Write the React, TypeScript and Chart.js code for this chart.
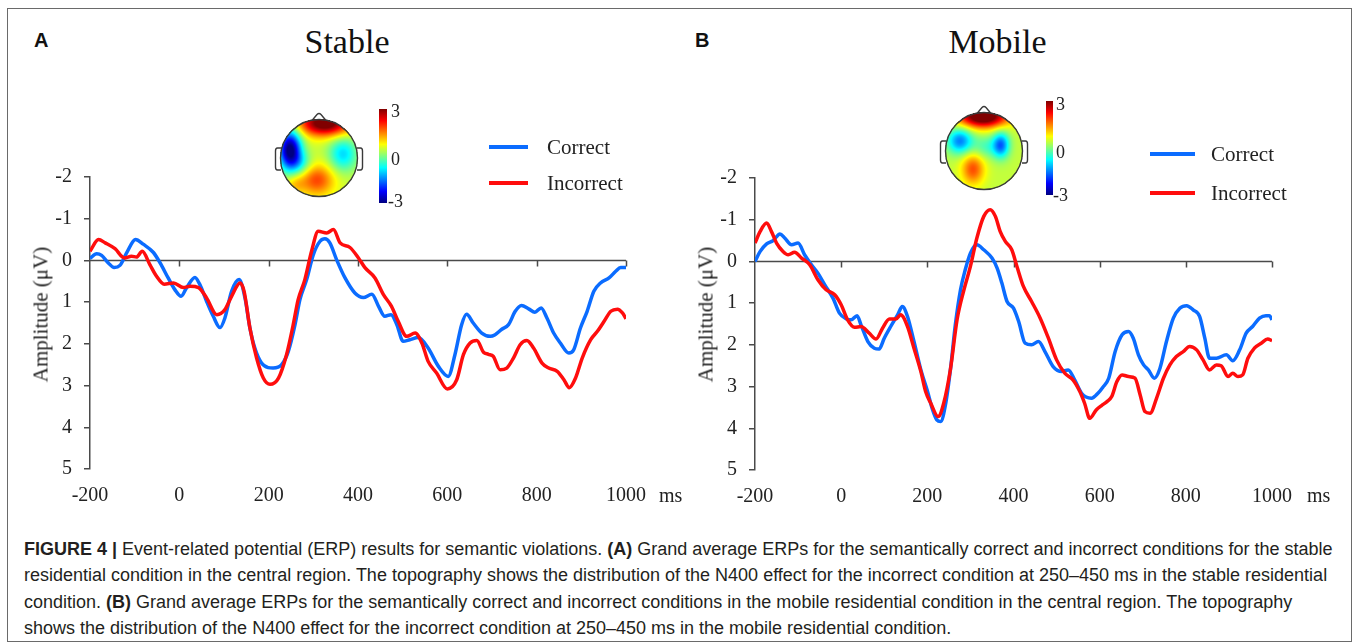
import React, { useEffect, useRef } from 'react';
import { Chart, registerables } from 'chart.js';
Chart.register(...registerables);

const SERIF = '"Liberation Serif", "Times New Roman", serif';
const SANS = '"Liberation Sans", Arial, sans-serif';
const BLUE = '#0b6cff';
const RED = '#ff0d0d';
const AXIS = '#4a4a4a';

const timeTicks = [-200, 0, 200, 400, 600, 800, 1000];
const ampTicks = [-2, -1, 0, 1, 2, 3, 4, 5];

// Stable – Correct
const stableCorrectT = [-200, -185, -174, -159, -146, -133, -118, -98, -81, -58, -43, -25, -10, 4, 16, 35, 46, 61, 76, 91, 102, 117, 134, 147, 158, 169, 184, 199, 210, 229, 244, 259, 270, 285, 300, 315, 326, 337, 352, 371, 393, 412, 431, 446, 460, 474, 487, 501, 516, 535, 557, 580, 602, 617, 632, 643, 658, 677, 696, 707, 722, 737, 752, 766, 782, 796, 810, 823, 838, 853, 872, 883, 898, 913, 928, 943, 962, 977, 988, 1000];
const stableCorrectV = [-0.05, -0.16, -0.12, 0.06, 0.17, 0.12, -0.18, -0.5, -0.39, -0.19, 0.06, 0.42, 0.7, 0.86, 0.66, 0.41, 0.58, 0.98, 1.34, 1.61, 1.38, 0.74, 0.46, 0.9, 1.62, 2.1, 2.46, 2.57, 2.58, 2.5, 2.18, 1.54, 0.94, 0.46, -0.14, -0.46, -0.52, -0.42, -0.02, 0.42, 0.78, 0.89, 0.81, 1.1, 1.34, 1.3, 1.54, 1.94, 1.9, 1.85, 2.1, 2.54, 2.78, 2.26, 1.54, 1.29, 1.5, 1.74, 1.82, 1.78, 1.65, 1.54, 1.22, 1.08, 1.16, 1.24, 1.14, 1.38, 1.74, 1.98, 2.22, 2.14, 1.62, 1.22, 0.74, 0.54, 0.42, 0.26, 0.17, 0.17];

// Stable – Incorrect
const stableIncorrectT = [-200, -181, -166, -144, -123, -107, -96, -83, -66, -51, -34, -13, 9, 24, 43, 61, 84, 102, 117, 136, 145, 158, 173, 188, 203, 222, 240, 255, 266, 281, 296, 311, 330, 345, 360, 382, 401, 416, 438, 457, 475, 490, 509, 528, 543, 557, 576, 600, 621, 636, 651, 666, 681, 692, 703, 718, 733, 748, 763, 778, 793, 812, 827, 846, 861, 873, 887, 902, 921, 936, 951, 966, 981, 992, 1000];
const stableIncorrectV = [-0.22, -0.5, -0.42, -0.28, -0.06, -0.1, -0.08, -0.22, 0.1, 0.38, 0.57, 0.54, 0.65, 0.62, 0.65, 0.9, 1.3, 1.18, 0.86, 0.54, 0.74, 1.62, 2.34, 2.82, 2.97, 2.82, 2.26, 1.54, 0.94, 0.46, -0.22, -0.7, -0.66, -0.74, -0.42, -0.31, -0.06, 0.18, 0.42, 0.82, 1.1, 1.46, 1.82, 1.74, 1.98, 2.42, 2.7, 3.08, 2.86, 2.26, 1.98, 1.92, 2.2, 2.25, 2.3, 2.62, 2.58, 2.34, 2.02, 1.92, 2.1, 2.46, 2.58, 2.66, 2.86, 3.05, 2.82, 2.34, 1.9, 1.7, 1.46, 1.22, 1.17, 1.26, 1.4];

// Mobile – Correct
const mobileCorrectT = [-200, -188, -173, -158, -142, -131, -115, -100, -85, -69, -54, -38, -19, -4, 12, 23, 37, 46, 62, 77, 88, 100, 115, 131, 142, 154, 169, 185, 200, 212, 222, 231, 242, 254, 265, 277, 288, 300, 315, 331, 350, 362, 373, 385, 400, 412, 427, 442, 458, 473, 492, 512, 527, 542, 558, 581, 596, 607, 621, 636, 652, 667, 678, 690, 702, 713, 727, 740, 755, 771, 786, 802, 817, 832, 844, 855, 871, 894, 909, 925, 940, 955, 971, 986, 994, 1000];
const mobileCorrectV = [0, -0.24, -0.42, -0.5, -0.66, -0.56, -0.4, -0.44, -0.16, 0.08, 0.28, 0.56, 0.88, 1.24, 1.38, 1.4, 1.3, 1.52, 1.92, 2.08, 2.1, 1.84, 1.56, 1.28, 1.08, 1.32, 1.92, 2.6, 3.1, 3.55, 3.8, 3.84, 3.44, 2.56, 1.52, 0.68, 0.2, -0.2, -0.4, -0.28, -0.08, 0.16, 0.52, 0.96, 1.12, 1.44, 1.96, 2.0, 1.92, 2.16, 2.52, 2.64, 2.6, 2.84, 3.16, 3.28, 3.16, 3.02, 2.8, 2.16, 1.76, 1.68, 1.84, 2.24, 2.48, 2.6, 2.8, 2.56, 1.92, 1.36, 1.12, 1.06, 1.16, 1.32, 1.84, 2.32, 2.32, 2.24, 2.38, 2.12, 1.72, 1.56, 1.36, 1.3, 1.3, 1.4];

// Mobile – Incorrect
const mobileIncorrectT = [-200, -188, -173, -162, -150, -135, -123, -108, -92, -73, -54, -35, -15, 0, 15, 31, 46, 65, 81, 96, 112, 127, 138, 154, 169, 185, 196, 208, 225, 238, 254, 269, 285, 300, 315, 331, 346, 358, 369, 381, 396, 408, 423, 442, 462, 481, 500, 519, 538, 554, 565, 577, 592, 605, 617, 628, 640, 652, 667, 682, 694, 705, 717, 732, 748, 763, 778, 794, 809, 825, 840, 855, 871, 882, 898, 909, 921, 932, 944, 959, 975, 990, 1000];
const mobileIncorrectV = [-0.44, -0.72, -0.92, -0.72, -0.44, -0.24, -0.16, -0.22, -0.08, 0.08, 0.44, 0.68, 0.8, 1.04, 1.4, 1.58, 1.56, 1.72, 1.86, 1.6, 1.38, 1.38, 1.28, 1.56, 2.08, 2.64, 3.12, 3.4, 3.72, 3.4, 2.56, 1.4, 0.68, 0.12, -0.56, -1.08, -1.24, -1.08, -0.72, -0.48, -0.28, 0.12, 0.6, 0.96, 1.36, 1.84, 2.36, 2.68, 2.84, 3.12, 3.4, 3.76, 3.56, 3.45, 3.36, 3.24, 2.88, 2.72, 2.76, 2.8, 3.2, 3.6, 3.64, 3.28, 2.8, 2.48, 2.28, 2.16, 2.04, 2.12, 2.36, 2.6, 2.48, 2.5, 2.76, 2.68, 2.76, 2.72, 2.32, 2.08, 1.96, 1.86, 1.9];

const captionLines: React.ReactNode[] = [
  <><b>FIGURE 4 |</b> Event-related potential (ERP) results for semantic violations. <b>(A)</b> Grand average ERPs for the semantically correct and incorrect conditions for the stable</>,
  <>residential condition in the central region. The topography shows the distribution of the N400 effect for the incorrect condition at 250–450 ms in the stable residential</>,
  <>condition. <b>(B)</b> Grand average ERPs for the semantically correct and incorrect conditions in the mobile residential condition in the central region. The topography</>,
  <>shows the distribution of the N400 effect for the incorrect condition at 250–450 ms in the mobile residential condition.</>,
];

const zeroLinePlugin = {
  id: 'zeroLine',
  beforeDatasetsDraw(chart: any) {
    const { ctx, chartArea } = chart;
    const xs = chart.scales.x;
    const ys = chart.scales.y;
    const y0 = ys.getPixelForValue(0);
    ctx.save();
    ctx.strokeStyle = AXIS;
    ctx.lineWidth = 1.5;
    ctx.beginPath();
    ctx.moveTo(chartArea.left, y0);
    ctx.lineTo(chartArea.right, y0);
    for (const t of timeTicks) {
      if (t === timeTicks[0]) continue;
      const px = Math.round(xs.getPixelForValue(t)) + 0.5;
      ctx.moveTo(px, y0);
      ctx.lineTo(px, y0 + 6);
    }
    ctx.stroke();
    ctx.restore();
  },
};

type ErpProps = {
  left: number; top: number; width: number; height: number;
  padTop: number; padRight: number; yWidth: number; xHeight: number;
  cT: number[]; cV: number[]; iT: number[]; iV: number[];
};

function ErpChart(p: ErpProps) {
  const ref = useRef<HTMLCanvasElement>(null);
  useEffect(() => {
    const pts = (t: number[], v: number[]) => t.map((x, i) => ({ x, y: v[i] }));
    const chart = new Chart(ref.current as HTMLCanvasElement, {
      type: 'line',
      data: {
        datasets: [
          { label: 'Incorrect', data: pts(p.iT, p.iV), borderColor: RED, borderWidth: 3.5, pointRadius: 0, cubicInterpolationMode: 'monotone', fill: false } as any,
          { label: 'Correct', data: pts(p.cT, p.cV), borderColor: BLUE, borderWidth: 3.5, pointRadius: 0, cubicInterpolationMode: 'monotone', fill: false } as any,
        ],
      },
      options: {
        animation: false,
        responsive: false,
        events: [],
        layout: { padding: { top: p.padTop, right: p.padRight, left: 0, bottom: 0 } },
        plugins: { legend: { display: false }, tooltip: { enabled: false } },
        scales: {
          x: {
            type: 'linear', min: -200, max: 1000,
            afterBuildTicks: (s: any) => { s.ticks = timeTicks.map((v) => ({ value: v })); },
            afterFit: (s: any) => { s.height = p.xHeight; },
            grid: { display: false, drawTicks: false },
            border: { display: false },
            ticks: { font: { family: SERIF, size: 20 }, color: '#222', padding: 15, maxRotation: 0, autoSkip: false, callback: (v: any) => String(v) },
          },
          y: {
            type: 'linear', reverse: true, min: -2, max: 5,
            afterBuildTicks: (s: any) => { s.ticks = ampTicks.map((v) => ({ value: v })); },
            afterFit: (s: any) => { s.width = p.yWidth; },
            grid: { drawOnChartArea: false, drawTicks: true, tickLength: 6, color: AXIS, lineWidth: 1.5 },
            border: { display: true, color: AXIS, width: 1.5 },
            ticks: { font: { family: SERIF, size: 20 }, color: '#222', padding: 12, callback: (v: any) => String(v) },
          },
        },
      } as any,
      plugins: [zeroLinePlugin],
    });
    return () => chart.destroy();
  }, []);
  return <canvas ref={ref} width={p.width} height={p.height} style={{ position: 'absolute', left: p.left, top: p.top, width: p.width, height: p.height }} />;
}

type Blob = { dx: number; dy: number; sx: number; sy: number; a: number };

function jet(n: number): [number, number, number] {
  const c = (v: number) => Math.max(0, Math.min(1, v));
  return [c(1.5 - Math.abs(4 * n - 3)), c(1.5 - Math.abs(4 * n - 2)), c(1.5 - Math.abs(4 * n - 1))];
}

function TopoMap({ cx, cy, r, base, blobs }: { cx: number; cy: number; r: number; base: number; blobs: Blob[] }) {
  const ref = useRef<HTMLCanvasElement>(null);
  const S = 110;
  const C = 55;
  useEffect(() => {
    const cv = ref.current as HTMLCanvasElement;
    const ctx = cv.getContext('2d') as CanvasRenderingContext2D;
    ctx.clearRect(0, 0, S, S);
    const img = ctx.createImageData(S, S);
    for (let y = 0; y < S; y++) {
      for (let x = 0; x < S; x++) {
        const dx = x + 0.5 - C;
        const dy = y + 0.5 - C;
        if (dx * dx + dy * dy > (r + 0.5) * (r + 0.5)) continue;
        let v = base;
        for (const b of blobs) {
          v += b.a * Math.exp(-(((dx - b.dx) ** 2) / (2 * b.sx * b.sx) + ((dy - b.dy) ** 2) / (2 * b.sy * b.sy)));
        }
        v = Math.max(-3, Math.min(3, v));
        const [rr, gg, bb] = jet((v + 3) / 6);
        const k = (y * S + x) * 4;
        img.data[k] = Math.round(rr * 255);
        img.data[k + 1] = Math.round(gg * 255);
        img.data[k + 2] = Math.round(bb * 255);
        img.data[k + 3] = 255;
      }
    }
    ctx.putImageData(img, 0, 0);
    ctx.strokeStyle = '#3a3a3a';
    ctx.lineWidth = 1.4;
    ctx.beginPath();
    ctx.arc(C, C, r, 0, Math.PI * 2);
    ctx.stroke();
    // nose
    ctx.beginPath();
    ctx.moveTo(C - 7, C - r + 1);
    ctx.lineTo(C - 2, C - r - 5);
    ctx.quadraticCurveTo(C, C - r - 7, C + 2, C - r - 5);
    ctx.lineTo(C + 7, C - r + 1);
    ctx.stroke();
    // ears
    const ear = (sgn: number) => {
      const xo = C + sgn * r;
      ctx.beginPath();
      ctx.moveTo(xo - sgn * 0.5, C - 10);
      ctx.lineTo(xo + sgn * 3, C - 10);
      ctx.quadraticCurveTo(xo + sgn * 5, C - 10, xo + sgn * 5, C - 7);
      ctx.lineTo(xo + sgn * 5, C + 9);
      ctx.quadraticCurveTo(xo + sgn * 5, C + 12, xo + sgn * 3, C + 12);
      ctx.lineTo(xo - sgn * 0.5, C + 12);
      ctx.stroke();
    };
    ear(-1);
    ear(1);
  }, []);
  return <canvas ref={ref} width={S} height={S} style={{ position: 'absolute', left: cx - C, top: cy - C, width: S, height: S }} />;
}

const JET_GRADIENT = 'linear-gradient(to bottom, #800000 0%, #ff0000 12.5%, #ffff00 37.5%, #80ff80 50%, #00ffff 62.5%, #0000ff 87.5%, #000080 100%)';

function Colorbar({ x, y, w, h, lx, t3, t0, tm3, lxm }: { x: number; y: number; w: number; h: number; lx: number; t3: number; t0: number; tm3: number; lxm: number }) {
  const lab: React.CSSProperties = { position: 'absolute', fontFamily: SERIF, fontSize: 18, lineHeight: '18px', color: '#222', whiteSpace: 'nowrap' };
  return (
    <>
      <div style={{ position: 'absolute', left: x, top: y, width: w, height: h, background: JET_GRADIENT }} />
      <div style={{ ...lab, left: lx, top: t3 }}>3</div>
      <div style={{ ...lab, left: lx, top: t0 }}>0</div>
      <div style={{ ...lab, left: lxm, top: tm3 }}>-3</div>
    </>
  );
}

function Legend({ x1, x2, y1, y2, tx }: { x1: number; x2: number; y1: number; y2: number; tx: number }) {
  const txt: React.CSSProperties = { position: 'absolute', fontFamily: SERIF, fontSize: 21, lineHeight: '21px', color: '#222', whiteSpace: 'nowrap' };
  return (
    <>
      <div style={{ position: 'absolute', left: x1, top: y1 - 2, width: x2 - x1, height: 4, background: BLUE }} />
      <div style={{ ...txt, left: tx, top: y1 - 10.5 }}>Correct</div>
      <div style={{ position: 'absolute', left: x1, top: y2 - 2, width: x2 - x1, height: 4, background: RED }} />
      <div style={{ ...txt, left: tx, top: y2 - 10.5 }}>Incorrect</div>
    </>
  );
}

const stableBlobs: Blob[] = [
  { dx: 6, dy: -35, sx: 18, sy: 9, a: 3.0 },
  { dx: -29, dy: -8, sx: 8, sy: 14, a: -3.6 },
  { dx: -2, dy: 22, sx: 12, sy: 11, a: 1.4 },
  { dx: 24, dy: -4, sx: 10, sy: 12, a: -1.4 },
  { dx: -18, dy: 5, sx: 8, sy: 8, a: -0.8 },
  { dx: -24, dy: 26, sx: 7, sy: 7, a: 0.6 },
];
const mobileBlobs: Blob[] = [
  { dx: -1, dy: -35, sx: 17, sy: 8, a: 3.4 },
  { dx: -24, dy: -10, sx: 9, sy: 9, a: -1.9 },
  { dx: 17, dy: -6, sx: 6, sy: 9, a: -2.0 },
  { dx: -11, dy: 18, sx: 8, sy: 11, a: 1.4 },
  { dx: 2, dy: -4, sx: 9, sy: 8, a: -0.7 },
];

export default function App() {
  const title: React.CSSProperties = { position: 'absolute', fontFamily: SERIF, fontSize: 34, lineHeight: '34px', color: '#111', width: 240, textAlign: 'center', whiteSpace: 'nowrap' };
  const letter: React.CSSProperties = { position: 'absolute', fontFamily: SANS, fontWeight: 'bold', fontSize: 20, lineHeight: '20px', color: '#111' };
  const ytitle: React.CSSProperties = { position: 'absolute', fontFamily: SERIF, fontSize: 21, lineHeight: '21px', color: '#222', width: 200, textAlign: 'center', whiteSpace: 'nowrap', transform: 'rotate(-90deg)' };
  const ms: React.CSSProperties = { position: 'absolute', fontFamily: SERIF, fontSize: 20, lineHeight: '20px', color: '#222', top: 485 };
  return (
    <div style={{ position: 'absolute', left: 0, top: 0, width: 1357, height: 643, background: '#fff', overflow: 'hidden' }}>
      <div style={{ position: 'absolute', left: 7, top: 8, width: 1343, height: 632, border: '1px solid #6a6a6a' }} />

      {/* Panel A */}
      <div style={{ ...letter, left: 34, top: 30 }}>A</div>
      <div style={{ ...title, left: 347 - 120, top: 24.5 }}>Stable</div>
      <ErpChart left={8} top={90} width={672} height={425} padTop={87} padRight={54} yWidth={82} xHeight={46}
        cT={stableCorrectT} cV={stableCorrectV} iT={stableIncorrectT} iV={stableIncorrectV} />
      <div style={{ ...ytitle, left: 41 - 100, top: 314 - 10.5 }}>Amplitude (μV)</div>
      <div style={{ ...ms, left: 659 }}>ms</div>
      <TopoMap cx={319} cy={157.5} r={38.5} base={0.45} blobs={stableBlobs} />
      <Colorbar x={379} y={109} w={8} h={94} lx={391} t3={102} t0={150} tm3={192} lxm={388} />
      <Legend x1={489} x2={528} y1={147} y2={183} tx={547} />

      {/* Panel B */}
      <div style={{ ...letter, left: 695, top: 30 }}>B</div>
      <div style={{ ...title, left: 997.5 - 120, top: 24.5 }}>Mobile</div>
      <ErpChart left={680} top={90} width={670} height={425} padTop={88} padRight={78} yWidth={75} xHeight={45}
        cT={mobileCorrectT} cV={mobileCorrectV} iT={mobileIncorrectT} iV={mobileIncorrectV} />
      <div style={{ ...ytitle, left: 706 - 100, top: 314 - 10.5 }}>Amplitude (μV)</div>
      <div style={{ ...ms, left: 1307 }}>ms</div>
      <TopoMap cx={984} cy={150.5} r={38.5} base={0.4} blobs={mobileBlobs} />
      <Colorbar x={1046} y={101} w={7} h={94} lx={1056} t3={95} t0={143} tm3={186} lxm={1053} />
      <Legend x1={1150} x2={1195} y1={154} y2={193} tx={1211} />

      {/* Caption */}
      <div style={{ position: 'absolute', left: 24, top: 536, fontFamily: SANS, fontSize: 18, lineHeight: '26.3px', color: '#231f20' }}>
        {captionLines.map((l, i) => (
          <div key={i} style={{ whiteSpace: 'nowrap' }}>{l}</div>
        ))}
      </div>
    </div>
  );
}
